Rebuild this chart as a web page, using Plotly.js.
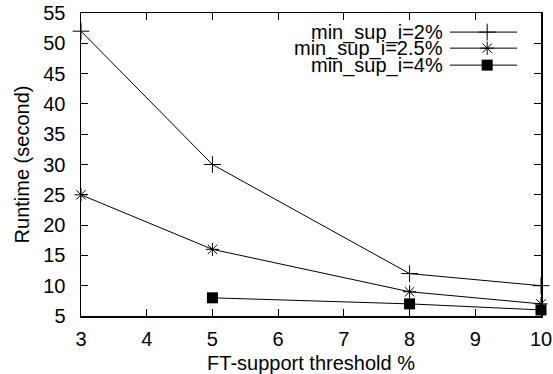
<!DOCTYPE html>
<html><head><meta charset="utf-8">
<script src="https://cdn.plot.ly/plotly-3.0.1.min.js"></script>
<style>html,body{margin:0;padding:0;background:#fff}</style>
</head><body>
<div id="chart" style="width:553px;height:374px"></div>
<script>
const thresholds1 = [3, 5, 8, 10];
const runtime1 = [52, 30, 12, 10];
const thresholds2 = [3, 5, 8, 10];
const runtime2 = [25, 16, 9, 7];
const thresholds3 = [5, 8, 10];
const runtime3 = [8, 7, 6];
const seriesNames = ['min_sup_i=2%', 'min_sup_i=2.5%', 'min_sup_i=4%'];
const xTicks = [3, 4, 5, 6, 7, 8, 9, 10];
const yTicks = [5, 10, 15, 20, 25, 30, 35, 40, 45, 50, 55];

const FONT = '"Liberation Sans", Arial, Helvetica, sans-serif';
const FS = 20;
const markers = [
  {symbol: 'cross-thin-open', size: 12, color: '#000', line: {width: 1, color: '#000'}},
  {symbol: 'asterisk-open', size: 11, color: '#000', line: {width: 1, color: '#000'}},
  {symbol: 'square', size: 11, color: '#000', line: {width: 0}}
];
const xs = [thresholds1, thresholds2, thresholds3];
const ys = [runtime1, runtime2, runtime3];

const traces = xs.map((x, i) => ({
  x: x, y: ys[i], type: 'scatter', mode: 'lines+markers',
  line: {color: '#000', width: 1}, marker: markers[i],
  showlegend: false, cliponaxis: false, hoverinfo: 'skip'
}));

// gnuplot-style key: text on the left, line sample with marker on the right
const rowY = [0.937, 0.884, 0.828];
const annotations = [];
rowY.forEach((yy, i) => {
  traces.push({
    x: [0.802, 0.948], y: [yy, yy], xaxis: 'x2', yaxis: 'y2',
    type: 'scatter', mode: 'lines', line: {color: '#000', width: 1},
    showlegend: false, hoverinfo: 'skip'
  });
  traces.push({
    x: [0.883], y: [yy], xaxis: 'x2', yaxis: 'y2', type: 'scatter', mode: 'markers',
    marker: markers[i], showlegend: false, hoverinfo: 'skip'
  });
  annotations.push({
    xref: 'x2', yref: 'y2', x: 0.789, y: yy, text: seriesNames[i],
    showarrow: false, xanchor: 'right', yanchor: 'middle', borderpad: 0,
    font: {family: FONT, size: FS, color: '#000'}
  });
});

const layout = {
  width: 553, height: 374,
  margin: {l: 81, r: 12, t: 13, b: 58},
  paper_bgcolor: '#fff', plot_bgcolor: '#fff',
  font: {family: FONT, size: FS, color: '#000'},
  xaxis: {
    range: [3, 10], tickvals: xTicks, ticks: 'inside', ticklen: 7, tickwidth: 1,
    tickcolor: '#000', showline: true, linecolor: '#000', linewidth: 1.5, mirror: 'allticks',
    showgrid: false, zeroline: false, fixedrange: true, ticklabelstandoff: 4,
    tickfont: {family: FONT, size: FS},
    title: {text: 'FT-support threshold %', font: {family: FONT, size: FS}, standoff: 7}
  },
  yaxis: {
    range: [5, 55], tickvals: yTicks, ticks: 'inside', ticklen: 7, tickwidth: 1,
    tickcolor: '#000', showline: true, linecolor: '#000', linewidth: 1.5, mirror: 'allticks',
    showgrid: false, zeroline: false, fixedrange: true, ticklabelstandoff: 10,
    tickfont: {family: FONT, size: FS},
    title: {text: 'Runtime (second)', font: {family: FONT, size: FS}, standoff: 8}
  },
  xaxis2: {overlaying: 'x', range: [0, 1], visible: false, fixedrange: true},
  yaxis2: {overlaying: 'y', range: [0, 1], visible: false, fixedrange: true},
  annotations: annotations,
  showlegend: false
};

Plotly.newPlot('chart', traces, layout, {staticPlot: true, displayModeBar: false});
</script>
</body></html>
